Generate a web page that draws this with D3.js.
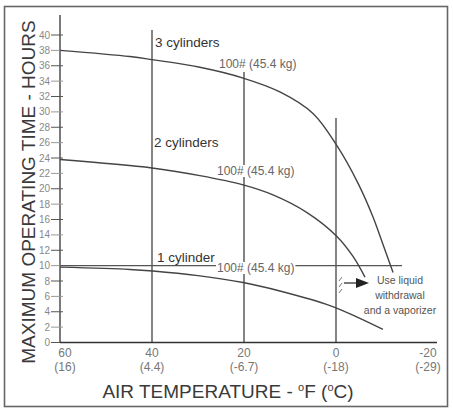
<!DOCTYPE html>
<html><head><meta charset="utf-8">
<script src="https://cdn.jsdelivr.net/npm/d3@7"></script>
<style>body{margin:0;background:#fff}svg{display:block}text{font-family:"Liberation Sans",Arial,sans-serif}</style>
</head><body><svg id="c" width="453" height="409"></svg>
<script>
// Data
const temps3 = [60, 44.8, 40, 29.6, 20.2, 12.2, 5, -0.2, -4.8, -8, -9.6, -12.4];
const hours3 = [38, 37.2, 36.8, 35.8, 34.4, 32.6, 29.8, 25.6, 20.7, 16.4, 13.8, 9.1];
const temps2 = [60, 40, 29.6, 20.2, 13.7, 6.3, -0.2, -3.7, -6.3];
const hours2 = [23.8, 22.7, 21.7, 20.5, 19.2, 16.9, 13.8, 11.2, 8.5];
const temps1 = [60, 44.8, 39.8, 30, 20.2, 12.2, 1.3, -4.6, -10.2];
const hours1 = [9.8, 9.5, 9.3, 8.7, 7.8, 6.7, 4.8, 3.3, 1.7];
const seriesLabels = ["3 cylinders", "2 cylinders", "1 cylinder"];
const weightLabel = "100# (45.4 kg)";
const xTicksF = [60, 40, 20, 0, -20];
const xTicksC = ["(16)", "(4.4)", "(-6.7)", "(-18)", "(-29)"];
const yTicks = d3.range(0, 41, 2);
const refTemps = [40, 20, 0];
const refHours = 10;
const noteLines = ["Use liquid", "withdrawal", "and a vaporizer"];

const svg = d3.select("#c");
const x = d3.scaleLinear().domain([60, -20]).range([60, 428]);
const y = d3.scaleLinear().domain([0, 40]).range([342.5, 35]);

// frame
svg.append("rect").attr("x", 4.5).attr("y", 6.5).attr("width", 443).attr("height", 400)
  .attr("fill", "none").attr("stroke", "#666").attr("stroke-width", 1.6);

// y axis
svg.append("line").attr("x1", 60).attr("x2", 60).attr("y1", 15).attr("y2", y(0))
  .attr("stroke", "#333").attr("stroke-width", 1.3);
const yt = svg.append("g");
yTicks.forEach(t => {
  yt.append("line").attr("x1", 51).attr("x2", 63).attr("y1", y(t)).attr("y2", y(t))
    .attr("stroke", t % 4 === 0 ? "#555" : "#999").attr("stroke-width", 1);
  yt.append("text").attr("x", 50).attr("y", y(t) + 3.5).attr("text-anchor", "end")
    .attr("font-size", 10).attr("fill", "#888").text(t);
});

// x axis
svg.append("line").attr("x1", 60).attr("x2", 437).attr("y1", y(0)).attr("y2", y(0))
  .attr("stroke", "#333").attr("stroke-width", 1.3);
xTicksF.forEach((t, i) => {
  const cx = x(t) + (i === 0 ? 5 : 0);
  svg.append("text").attr("x", cx).attr("y", 357).attr("text-anchor", "middle")
    .attr("font-size", 12).attr("fill", "#777").text(t);
  svg.append("text").attr("x", cx).attr("y", 371).attr("text-anchor", "middle")
    .attr("font-size", 12).attr("fill", "#777").text(xTicksC[i]);
});

// reference lines
const refTop = {40: 30, 20: 72, 0: 118};
refTemps.forEach(t => {
  svg.append("line").attr("x1", x(t)).attr("x2", x(t)).attr("y1", refTop[t]).attr("y2", y(0))
    .attr("stroke", "#333").attr("stroke-width", 1.2);
});
svg.append("line").attr("x1", 60).attr("x2", 402).attr("y1", y(refHours)).attr("y2", y(refHours))
  .attr("stroke", "#555").attr("stroke-width", 1.2);

// curves
const line = d3.line().x(d => x(d[0])).y(d => y(d[1])).curve(d3.curveCatmullRom.alpha(0.5));
[[temps3, hours3], [temps2, hours2], [temps1, hours1]].forEach(([ts, hs]) => {
  svg.append("path").attr("d", line(ts.map((t, i) => [t, hs[i]])))
    .attr("fill", "none").attr("stroke", "#444").attr("stroke-width", 1.4);
});

// series labels
const labPos = [[155, 47], [154, 147], [157, 262]];
seriesLabels.forEach((s, i) => {
  svg.append("text").attr("x", labPos[i][0]).attr("y", labPos[i][1])
    .attr("font-size", 13.5).attr("fill", "#333").text(s);
});
const wPos = [[219, 68], [217, 175], [217, 272]];
wPos.forEach(p => {
  const t = svg.append("text").attr("x", p[0]).attr("y", p[1])
    .attr("font-size", 12).attr("fill", "#666").text(weightLabel);
  const bb = t.node().getBBox();
  svg.insert("rect", function(){ return t.node(); })
    .attr("x", bb.x - 1).attr("y", bb.y + 1).attr("width", bb.width + 2).attr("height", bb.height - 2)
    .attr("fill", "#fff");
});

// note
noteLines.forEach((s, i) => {
  svg.append("text").attr("x", 400).attr("y", 284 + i * 15).attr("text-anchor", "middle")
    .attr("font-size", 10.5).attr("fill", "#555").text(s);
});
svg.append("line").attr("x1", 344).attr("x2", 358).attr("y1", 283).attr("y2", 283)
  .attr("stroke", "#333").attr("stroke-width", 1.3);
svg.append("path").attr("d", "M356,278 L369,283 L356,288 Z").attr("fill", "#222");
[278, 284, 290].forEach(yy => {
  svg.append("line").attr("x1", 339).attr("x2", 342).attr("y1", yy + 3).attr("y2", yy - 1)
    .attr("stroke", "#777").attr("stroke-width", 1);
});

// axis titles
svg.append("text").attr("transform", "translate(35,192) rotate(-90)").attr("text-anchor", "middle")
  .attr("font-size", 19).attr("fill", "#3a3a3a").text("MAXIMUM OPERATING TIME - HOURS");
const xt = svg.append("text").attr("x", 228).attr("y", 398).attr("text-anchor", "middle")
  .attr("font-size", 19).attr("fill", "#3a3a3a");
xt.append("tspan").text("AIR TEMPERATURE - ");
xt.append("tspan").attr("font-size", 11).attr("dy", -7).text("o");
xt.append("tspan").attr("dy", 7).text("F (");
xt.append("tspan").attr("font-size", 11).attr("dy", -7).text("o");
xt.append("tspan").attr("dy", 7).text("C)");
</script></body></html>
